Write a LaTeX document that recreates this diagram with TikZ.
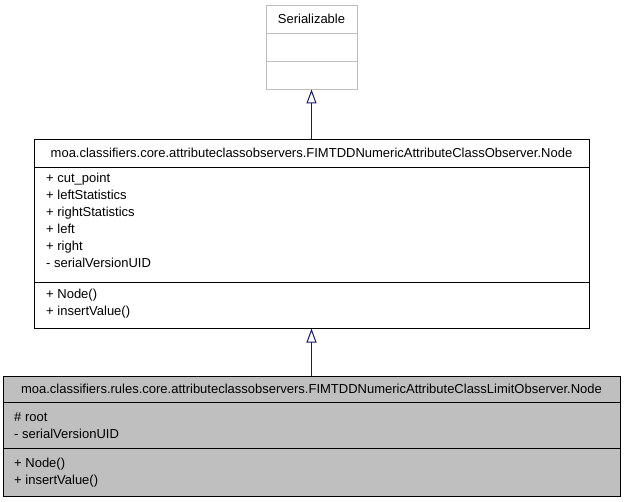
\documentclass[tikz,border=0pt]{standalone}
\usepackage{fontspec}
\setmainfont{Liberation Sans}
\usetikzlibrary{arrows.meta}
\begin{document}
\begin{tikzpicture}[x=1pt,y=-1pt,
  txt/.style={anchor=base west,inner sep=0pt,font=\fontsize{13}{15}\selectfont},
  ctxt/.style={anchor=base,inner sep=0pt,font=\fontsize{13}{15}\selectfont},
  inherit/.style={draw=navyblue,line width=1pt,-{Triangle[open,length=14pt,width=10pt,line width=1pt]}}]
\definecolor{navyblue}{HTML}{191970}
\definecolor{boxgray}{HTML}{BFBFBF}
\useasboundingbox (0,0) rectangle (624,501);
% top box
\node[draw=boxgray,line width=0.9pt,minimum width=91pt,minimum height=84pt,inner sep=0pt] (ser) at (311.5,47) {};
\draw[boxgray,line width=0.9pt] (266,33) -- (357,33) (266,61) -- (357,61);
\node[ctxt] (sert) at (311.5,23.5) {Serializable};
% middle box
\node[draw=black,line width=1pt,minimum width=555pt,minimum height=189pt,inner sep=0pt] (mid) at (311.5,233.5) {};
\draw[black,line width=1pt] (34,167) -- (589,167) (34,282) -- (589,282);
\node[ctxt] (midt) at (311.5,157) {moa.classifiers.core.attributeclassobservers.FIMTDDNumericAttributeClassObserver.Node};
\node[txt] (m1) at (46,182) {+ cut\_point};
\node[txt] (m2) at (46,199) {+ leftStatistics};
\node[txt] (m3) at (46,216) {+ rightStatistics};
\node[txt] (m4) at (46,233) {+ left};
\node[txt] (m5) at (46,250) {+ right};
\node[txt] (m6) at (46,267) {- serialVersionUID};
\node[txt] (m7) at (46,298) {+ Node()};
\node[txt] (m8) at (46,315) {+ insertValue()};
% bottom box
\node[draw=black,fill=boxgray,line width=1pt,minimum width=617pt,minimum height=120pt,inner sep=0pt] (bot) at (311.5,436) {};
\draw[black,line width=1pt] (3,402) -- (620,402) (3,448) -- (620,448);
\node[ctxt] (bott) at (311.5,393) {moa.classifiers.rules.core.attributeclassobservers.FIMTDDNumericAttributeClassLimitObserver.Node};
\node[txt] (b1) at (14,421.5) {\# root};
\node[txt] (b2) at (14,438.5) {- serialVersionUID};
\node[txt] (b3) at (14,467) {+ Node()};
\node[txt] (b4) at (14,484) {+ insertValue()};
% arrows
\draw[inherit] (mid.north) -- (ser.south);
\draw[inherit] (bot.north) -- (mid.south);
\end{tikzpicture}
\end{document}
